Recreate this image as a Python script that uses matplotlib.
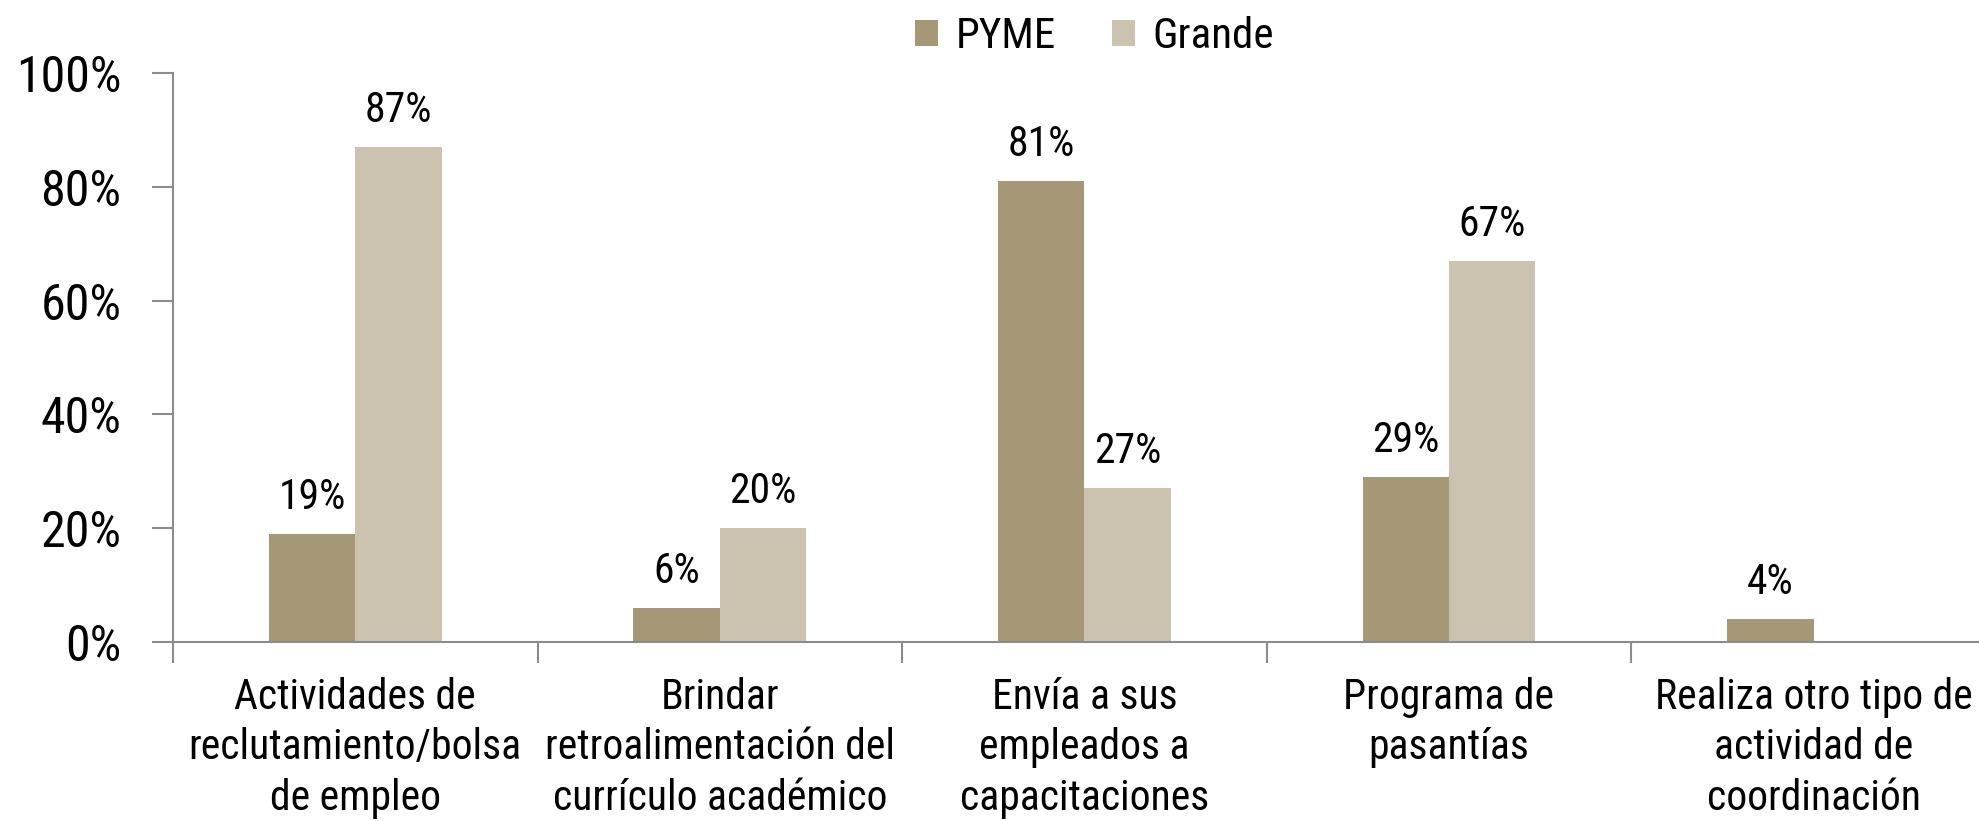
import matplotlib
matplotlib.use("Agg")
import matplotlib.pyplot as plt
from matplotlib import font_manager
import numpy as np

categories = [
    "Actividades de\nreclutamiento/bolsa\nde empleo",
    "Brindar\nretroalimentación del\ncurrículo académico",
    "Envía a sus\nempleados a\ncapacitaciones",
    "Programa de\npasantías",
    "Realiza otro tipo de\nactividad de\ncoordinación",
]
pyme = [19, 6, 81, 29, 4]
grande = [87, 20, 27, 67, None]
yticks = [0, 20, 40, 60, 80, 100]

COL_PYME = "#A69876"
COL_GRANDE = "#CBC3AF"
AXCOL = "#8C8C8C"

# pick a narrow font if there is one
installed = {f.name for f in font_manager.fontManager.ttflist}
wanted = ["Liberation Sans Narrow", "Roboto Condensed", "DejaVu Sans Condensed",
          "Noto Sans Condensed", "Open Sans Condensed", "Roboto"]
narrow = next((n for n in wanted if n in installed), "DejaVu Sans")
plt.rcParams["font.family"] = [narrow, "DejaVu Sans"]

fig = plt.figure(figsize=(19.79, 8.21), dpi=100)
ax = fig.add_axes([0.0874, 0.218, 0.9211, 0.693])

x = np.arange(len(categories))
w = 0.237
g_vals = [v if v is not None else 0 for v in grande]
b1 = ax.bar(x - w / 2, pyme, w, color=COL_PYME, label="PYME")
b2 = ax.bar(x + w / 2, g_vals, w, color=COL_GRANDE, label="Grande")

for xi, v in zip(x, pyme):
    ax.text(xi - w / 2, v + 2.8, f"{v}%", ha="center", va="bottom", fontsize=30)
for xi, v in zip(x, grande):
    if v is not None:
        ax.text(xi + w / 2, v + 2.8, f"{v}%", ha="center", va="bottom", fontsize=30)

ax.set_xlim(-0.5, len(categories) - 0.5)
ax.set_ylim(0, 100)
ax.set_yticks(yticks)
ax.set_yticklabels([f"{t}%" for t in yticks], fontsize=36)
ax.set_xticks(x)
ax.set_xticklabels(categories, fontsize=30, linespacing=1.3)
ax.set_xticks(np.arange(len(categories) + 1) - 0.5, minor=True)
ax.tick_params(axis="x", which="major", length=0, pad=25)
ax.tick_params(axis="x", which="minor", length=15, width=1.5, color=AXCOL)
ax.tick_params(axis="y", length=15, width=1.5, color=AXCOL, pad=22)

for s in ["top", "right"]:
    ax.spines[s].set_visible(False)
for s in ["left", "bottom"]:
    ax.spines[s].set_color(AXCOL)
    ax.spines[s].set_linewidth(1.5)

fig.legend(handles=[b1, b2], loc="center", bbox_to_anchor=(0.553, 0.955), ncol=2,
           frameon=False, fontsize=31, handlelength=0.55, handleheight=0.55,
           handletextpad=0.4, columnspacing=1.3)

fig.savefig("out.png", dpi=100)
